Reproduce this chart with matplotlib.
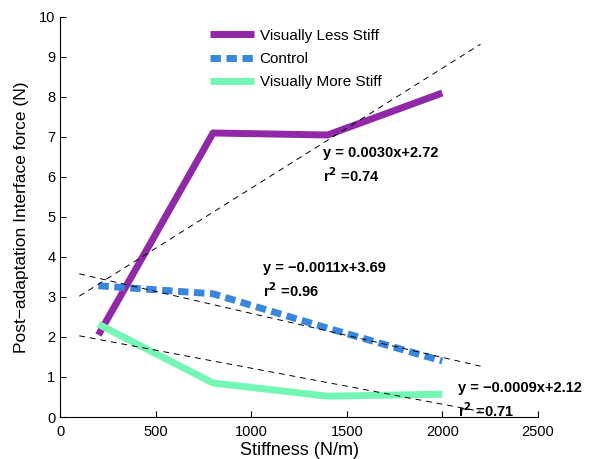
import matplotlib
matplotlib.use('Agg')
import matplotlib.pyplot as plt
import numpy as np

plt.rcParams['font.family'] = ['Liberation Sans', 'DejaVu Sans']

stiffness = [200, 800, 1400, 2000]
less_stiff = [2.05, 7.1, 7.05, 8.1]
control = [3.28, 3.08, 2.22, 1.4]
more_stiff = [2.32, 0.85, 0.52, 0.57]

# fitted lines (slope, intercept) and labels
fits = [(0.0030, 2.72), (-0.0011, 3.69), (-0.0009, 2.12)]
eq_text = ['y = 0.0030x+2.72', 'y = \u22120.0011x+3.69', 'y = \u22120.0009x+2.12']
r2_text = ['r$^{\\mathbf{2}}$ =0.74', 'r$^{\\mathbf{2}}$ =0.96', 'r$^{\\mathbf{2}}$ =0.71']
text_pos = [(1376, 6.6), (1062, 3.72), (2083, 0.72)]

fig = plt.figure(figsize=(6.14, 4.59), dpi=100)
ax = fig.add_axes([0.098, 0.0915, 0.778, 0.8715])

ax.plot(stiffness, less_stiff, color='#9028A8', lw=5, label='Visually Less Stiff', solid_capstyle='butt')
ax.plot(stiffness, control, color='#3A86DA', lw=5, ls=(0, (1.5, 0.8)), label='Control')
ax.plot(stiffness, more_stiff, color='#74F7B4', lw=5, label='Visually More Stiff', solid_capstyle='butt')

xf = np.array([100, 2200])
for (m, b), e, r, (tx, ty) in zip(fits, eq_text, r2_text, text_pos):
    ax.plot(xf, m * xf + b, 'k', lw=0.7, dashes=(6, 5))
    ax.text(tx, ty, e, fontsize=10.5, fontweight='bold', va='center')
    ax.text(tx, ty - 0.57, r, fontsize=10.5, fontweight='bold', va='center')

ax.set_xlim(0, 2500)
ax.set_ylim(0, 10)
ax.set_xticks(range(0, 2501, 500))
ax.set_yticks(range(0, 11))
ax.tick_params(direction='in', labelsize=10.5, length=4)
ax.tick_params(axis='x', pad=6)
ax.spines['top'].set_visible(False)
ax.spines['right'].set_visible(False)
ax.set_xlabel('Stiffness (N/m)', fontsize=13, labelpad=2)
ax.set_ylabel('Post\u2212adaptation Interface force (N)', fontsize=12.5, labelpad=7)

ax.legend(loc='upper left', bbox_to_anchor=(0.285, 1.005), frameon=False, fontsize=11,
          handlelength=2.9, handletextpad=0.35, labelspacing=0.6)

fig.savefig('out.png', dpi=100)
